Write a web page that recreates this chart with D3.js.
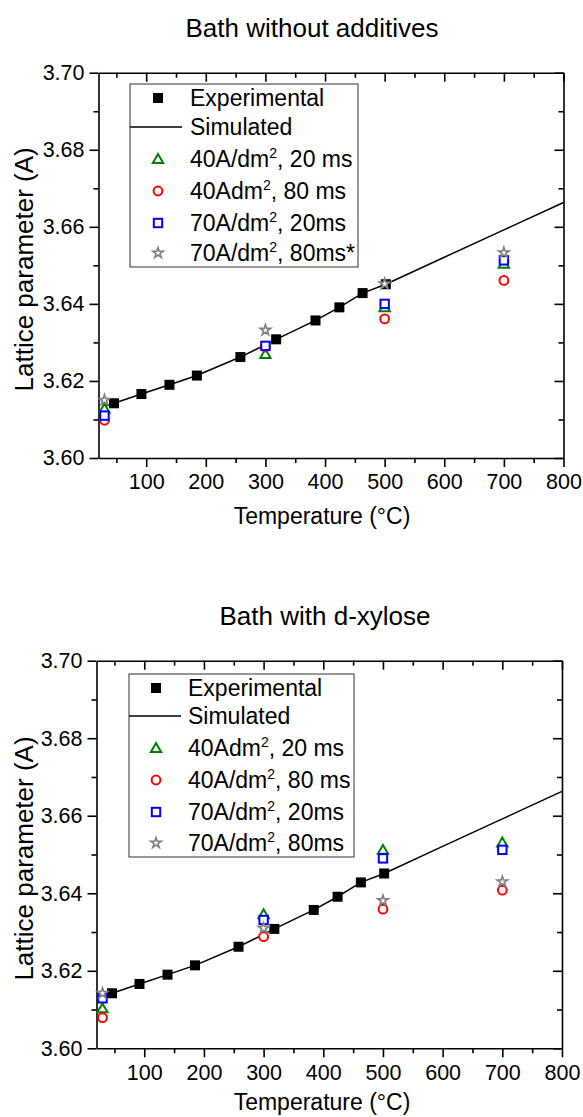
<!DOCTYPE html>
<html><head><meta charset="utf-8">
<script src="https://cdn.jsdelivr.net/npm/d3@7"></script>
<style>body{margin:0;background:#fff} svg{display:block} text{font-family:Arial,"Liberation Sans",sans-serif;fill:#000}</style>
</head><body><svg id="c" width="583" height="1117"></svg>
<script>
// ---- data ----
const xTicks = [100,200,300,400,500,600,700,800];
const xMinor = [50,150,250,350,450,550,650,750];
const yTicks = [3.60,3.62,3.64,3.66,3.68,3.70];
const yMinor = [3.61,3.63,3.65,3.67,3.69];
const expT = [46,92,139,185,258,318,384,424,463,502];
const expA = [3.6142,3.6166,3.6190,3.6214,3.6262,3.6308,3.6357,3.6391,3.6428,3.6451];
const simT = [27,46,92,139,185,258,318,384,424,463,502,600,700,800];
const simA = [3.6133,3.6142,3.6166,3.6190,3.6214,3.6262,3.6308,3.6357,3.6391,3.6428,3.6451,3.6521,3.6592,3.6663];
const sampleT = [30,300,500,700];
const top40_20 = [3.6128,3.6270,3.6391,3.6504];
const top40_80 = [3.6098,3.6288,3.6361,3.6461];
const top70_20 = [3.6110,3.6291,3.6400,3.6513];
const top70_80 = [3.6150,3.6332,3.6452,3.6533];
const bot40_20 = [3.6103,3.6346,3.6512,3.6531];
const bot40_80 = [3.6079,3.6288,3.6359,3.6408];
const bot70_20 = [3.6129,3.6331,3.6490,3.6512];
const bot70_80 = [3.6142,3.6310,3.6381,3.6430];
const topLabels = ["Experimental","Simulated","40A/dm^2, 20 ms","40Adm^2, 80 ms","70A/dm^2, 20ms","70A/dm^2, 80ms*"];
const botLabels = ["Experimental","Simulated","40Adm^2, 20 ms","40A/dm^2, 80 ms","70A/dm^2, 20ms","70A/dm^2, 80ms"];
const titles = ["Bath without additives","Bath with d-xylose"];

// ---- drawing ----
const svg = d3.select("#c");
const styles = [
  {type:"tri", color:"#008000"},
  {type:"circ", color:"#ff0000"},
  {type:"sq", color:"#0000ff"},
  {type:"star", color:"#808080"}
];

function drawSymbol(g, type, color, cx, cy){
  if(type==="circ"){
    g.append("circle").attr("cx",cx).attr("cy",cy).attr("r",4.4)
      .attr("fill","#fff").attr("stroke",color).attr("stroke-width",2);
  } else if(type==="sq"){
    g.append("rect").attr("x",cx-4.2).attr("y",cy-4.2).attr("width",8.4).attr("height",8.4)
      .attr("fill","#fff").attr("stroke",color).attr("stroke-width",2);
  } else if(type==="tri"){
    g.append("path").attr("d",d3.symbol().type(d3.symbolTriangle).size(46)())
      .attr("transform",`translate(${cx},${cy+1})`)
      .attr("fill","#fff").attr("stroke",color).attr("stroke-width",2);
  } else if(type==="star"){
    g.append("path").attr("d",d3.symbol().type(d3.symbolStar).size(34)())
      .attr("transform",`translate(${cx},${cy})`)
      .attr("fill","#fff").attr("stroke",color).attr("stroke-width",1.6);
  } else if(type==="exp"){
    g.append("rect").attr("x",cx-5).attr("y",cy-5).attr("width",10).attr("height",10).attr("fill","#000");
  }
}

function addLabel(t, label){
  const parts = label.split("^2");
  t.append("tspan").text(parts[0]);
  if(parts.length>1){
    t.append("tspan").text("2").attr("font-size","14px").attr("dy",-9);
    t.append("tspan").text(parts[1]).attr("dy",9);
  }
}

function panel(p){
  const x = d3.scaleLinear().domain([20,800]).range([p.left,p.right]);
  const y = d3.scaleLinear().domain([3.60,3.70]).range([p.bottom,p.top]);
  const g = svg.append("g");

  // title
  g.append("text").attr("x",p.titleX).attr("y",p.top-36).attr("text-anchor","middle")
    .attr("font-size","26px").text(p.title);

  // axes
  const sw = 1.6;
  const ax = (sel)=>{ sel.selectAll("path,line").attr("stroke","#000").attr("stroke-width",sw); sel.selectAll("text").attr("font-size","21.5px").attr("fill","#000").attr("font-family","Arial, 'Liberation Sans', sans-serif"); };
  g.append("g").attr("transform",`translate(0,${p.bottom})`)
    .call(d3.axisBottom(x).tickValues(xTicks).tickSize(9).tickSizeOuter(0).tickPadding(7).tickFormat(d3.format("d"))).call(ax);
  g.append("g").attr("transform",`translate(0,${p.bottom})`)
    .call(d3.axisBottom(x).tickValues(xMinor).tickSize(5).tickSizeOuter(0).tickFormat("")).call(ax).select(".domain").remove();
  g.append("g").attr("transform",`translate(0,${p.top})`)
    .call(d3.axisTop(x).tickValues(xTicks).tickSize(-9).tickSizeOuter(0).tickFormat("")).call(ax);
  g.append("g").attr("transform",`translate(0,${p.top})`)
    .call(d3.axisTop(x).tickValues(xMinor).tickSize(-5).tickSizeOuter(0).tickFormat("")).call(ax).select(".domain").remove();
  g.append("g").attr("transform",`translate(${p.left},0)`)
    .call(d3.axisLeft(y).tickValues(yTicks).tickSize(9).tickSizeOuter(0).tickPadding(5).tickFormat(d3.format(".2f"))).call(ax);
  g.append("g").attr("transform",`translate(${p.left},0)`)
    .call(d3.axisLeft(y).tickValues(yMinor).tickSize(5).tickSizeOuter(0).tickFormat("")).call(ax).select(".domain").remove();
  g.append("g").attr("transform",`translate(${p.right},0)`)
    .call(d3.axisRight(y).tickValues(yTicks).tickSize(-9).tickSizeOuter(0).tickFormat("")).call(ax);
  g.append("g").attr("transform",`translate(${p.right},0)`)
    .call(d3.axisRight(y).tickValues(yMinor).tickSize(-5).tickSizeOuter(0).tickFormat("")).call(ax).select(".domain").remove();

  // axis titles
  g.append("text").attr("x",322).attr("y",p.bottom+p.xtOff).attr("text-anchor","middle")
    .attr("font-size","23px").text("Temperature (°C)");
  g.append("text").attr("transform",`translate(33,${(p.top+p.bottom)/2+4}) rotate(-90)`)
    .attr("text-anchor","middle").attr("font-size","26px").text("Lattice parameter (A)");

  // data
  const dg = g.append("g");
  expT.forEach((t,i)=>drawSymbol(dg,"exp",null,x(t),y(expA[i])));
  dg.append("path").attr("d",d3.line().x((d,i)=>x(simT[i])).y(d=>y(d))(simA))
    .attr("fill","none").attr("stroke","#000").attr("stroke-width",1.5);
  p.series.forEach((s,k)=>{
    sampleT.forEach((t,i)=>drawSymbol(dg,styles[k].type,styles[k].color,x(t),y(s[i])));
  });

  // legend
  const L = p.legend;
  g.append("rect").attr("x",L.x).attr("y",L.y).attr("width",L.w).attr("height",L.h)
    .attr("fill","none").attr("stroke","#333").attr("stroke-width",1);
  p.labels.forEach((lab,i)=>{
    const cy = L.rows[i];
    if(i===0) drawSymbol(g,"exp",null,L.sx,cy);
    else if(i===1) g.append("line").attr("x1",L.x).attr("x2",L.x+52).attr("y1",cy).attr("y2",cy).attr("stroke","#000").attr("stroke-width",1.5);
    else drawSymbol(g,styles[i-2].type,styles[i-2].color,L.sx,cy);
    const t = g.append("text").attr("x",L.tx).attr("y",cy+8).attr("font-size","23px");
    addLabel(t,lab);
  });
}

panel({left:98.5,right:563.5,top:72.7,bottom:458,titleX:312,title:titles[0],xtOff:66,
  series:[top40_20,top40_80,top70_20,top70_80],labels:topLabels,
  legend:{x:130,y:84,w:228,h:183,sx:158,tx:190,rows:[98,127,159,191,223,253]}});
panel({left:96.5,right:562,top:660.7,bottom:1048.3,titleX:325,title:titles[1],xtOff:62,
  series:[bot40_20,bot40_80,bot70_20,bot70_80],labels:botLabels,
  legend:{x:129,y:674,w:225,h:183,sx:156,tx:188,rows:[688,716,748,780,812,843]}});
</script></body></html>
